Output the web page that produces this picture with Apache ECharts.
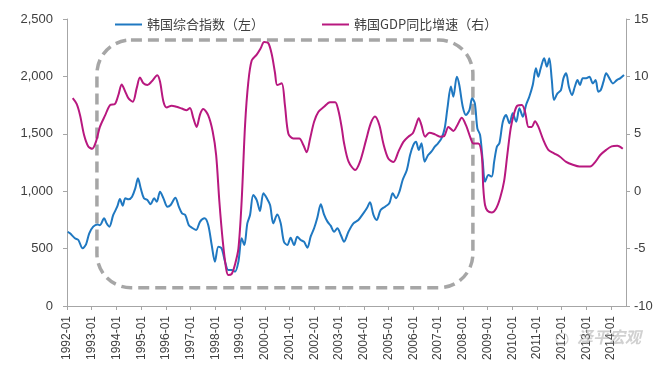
<!DOCTYPE html>
<html>
<head>
<meta charset="utf-8">
<script src="https://cdn.jsdelivr.net/npm/echarts@6/dist/echarts.min.js"></script>
<style>
html,body{margin:0;padding:0;background:#fff;}
#c{width:660px;height:372px;}
</style>
</head>
<body>
<div id="c"></div>
<script>
// ---- data (x = position in years) ----
const kospiName = '韩国综合指数（左）';
const gdpName = '韩国GDP同比增速（右）';

const kospiX = [1992.03,1992.12,1992.32,1992.46,1992.63,1992.77,1992.90,1993.06,1993.23,1993.33,1993.50,1993.60,1993.71,1993.87,
1994.03,1994.14,1994.25,1994.36,1994.49,1994.63,1994.76,1994.87,1994.98,1995.11,1995.25,1995.38,1995.52,1995.63,1995.76,1995.90,
1996.06,1996.19,1996.38,1996.52,1996.65,1996.78,1996.92,1997.05,1997.22,1997.38,1997.56,1997.71,1997.85,1997.98,1998.12,1998.25,
1998.39,1998.52,1998.66,1998.79,1998.93,1999.06,1999.17,1999.29,1999.40,1999.53,1999.67,1999.80,1999.94,2000.08,2000.21,2000.34,
2000.50,2000.64,2000.77,2000.91,2001.04,2001.18,2001.31,2001.45,2001.58,2001.72,2001.85,2001.99,2002.12,2002.26,2002.39,2002.53,
2002.66,2002.80,2002.93,2003.07,2003.20,2003.38,2003.58,2003.78,2003.98,2004.12,2004.25,2004.39,2004.52,2004.68,2004.86,2005.03,
2005.17,2005.30,2005.44,2005.57,2005.74,2005.87,2006.00,2006.11,2006.22,2006.33,2006.46,2006.60,2006.73,2006.87,2007.00,2007.14,
2007.27,2007.38,2007.52,2007.62,2007.76,2007.86,2008.00,2008.13,2008.27,2008.38,2008.49,2008.59,2008.70,2008.81,2008.90,2009.04,
2009.17,2009.27,2009.38,2009.48,2009.62,2009.75,2009.89,2010.02,2010.16,2010.29,2010.43,2010.56,2010.69,2010.83,2010.96,2011.05,
2011.15,2011.29,2011.40,2011.50,2011.60,2011.69,2011.83,2011.97,2012.07,2012.18,2012.29,2012.42,2012.53,2012.64,2012.74,2012.85,
2012.99,2013.12,2013.26,2013.37,2013.48,2013.58,2013.69,2013.80,2013.93,2014.07,2014.23,2014.36,2014.52];
const kospiValues = [647,633,590,575,502,537,633,691,711,704,764,720,691,793,
865,932,874,938,929,952,1025,1112,1025,938,923,886,938,909,996,938,
865,880,944,865,807,793,706,682,662,735,764,706,531,386,517,502,
386,314,314,299,386,590,531,720,793,967,923,828,982,938,880,720,
798,720,560,531,595,531,604,575,560,508,604,677,769,886,798,735,
700,647,677,619,560,647,720,749,807,851,903,793,749,836,865,894,
982,938,996,1098,1185,1315,1402,1431,1359,1417,1257,1315,1344,1388,1417,1460,
1548,1722,1911,1823,1997,1925,1736,1664,1707,1809,1765,1548,1490,1257,1083,1141,
1127,1257,1388,1417,1605,1664,1591,1678,1605,1722,1649,1751,1823,1925,2070,1997,
2070,2158,2085,2158,1969,1794,1852,1881,1983,2027,1910,1838,1910,1968,1925,1983,
1983,1997,1939,1968,1867,1881,1954,2027,1983,1939,1968,1983,2012];

const gdpX = [1992.23,1992.39,1992.53,1992.69,1992.86,1993.02,1993.17,1993.33,1993.54,1993.74,1993.94,1994.08,1994.21,1994.35,
1994.48,1994.66,1994.82,1994.95,1995.09,1995.25,1995.42,1995.65,1995.76,1995.90,1996.03,1996.23,1996.43,1996.64,1996.84,1996.97,
1997.11,1997.24,1997.38,1997.51,1997.71,1997.89,1998.03,1998.16,1998.30,1998.43,1998.52,1998.66,1998.79,1998.93,1999.06,1999.20,
1999.33,1999.47,1999.67,1999.83,1999.97,2000.14,2000.28,2000.41,2000.50,2000.68,2000.81,2000.95,2001.15,2001.39,2001.56,2001.69,
2001.83,2001.99,2002.16,2002.39,2002.63,2002.84,2002.97,2003.11,2003.20,2003.38,2003.65,2003.85,2004.09,2004.28,2004.45,2004.63,
2004.79,2004.99,2005.20,2005.40,2005.60,2005.80,2005.98,2006.11,2006.22,2006.33,2006.48,2006.65,2006.88,2007.08,2007.25,2007.42,
2007.62,2007.78,2007.96,2008.13,2008.32,2008.43,2008.63,2008.77,2008.83,2008.90,2009.00,2009.17,2009.35,2009.51,2009.67,2009.80,
2009.94,2010.08,2010.21,2010.39,2010.52,2010.66,2010.79,2010.92,2011.06,2011.26,2011.46,2011.69,2011.93,2012.18,2012.45,2012.72,
2012.95,2013.15,2013.36,2013.56,2013.80,2014.02,2014.25,2014.47];
const gdpValues = [8.1,7.6,6.6,4.9,3.9,3.7,4.3,5.6,6.6,7.5,7.6,8.4,9.3,8.7,
8.1,7.8,9.0,9.9,9.4,9.25,9.55,10.1,9.55,7.8,7.3,7.45,7.35,7.2,7.05,7.25,
6.35,5.6,6.7,7.15,6.6,5.2,3.15,-0.9,-4.4,-6.7,-7.3,-7.2,-6.4,-5.0,-0.9,5.8,
9.5,11.4,11.9,12.45,13.0,12.9,11.9,10.3,9.25,9.4,7.5,5.0,4.6,4.6,4.0,3.4,
4.6,6.05,6.9,7.35,7.75,7.75,7.05,5.5,4.2,2.6,1.85,2.6,4.45,5.9,6.5,5.75,
4.15,2.85,2.55,3.45,4.3,4.75,5.05,5.75,6.35,5.75,4.75,5.1,4.95,4.75,4.8,5.6,
5.25,5.75,6.4,5.75,4.6,4.15,4.15,3.1,0.3,-1.2,-1.7,-1.85,-1.5,-0.6,0.85,3.15,
5.5,6.8,7.45,7.5,6.9,5.6,5.6,6.1,5.6,4.45,3.6,3.3,3.0,2.55,2.3,2.15,
2.15,2.15,2.55,3.15,3.6,3.9,3.95,3.7];

const xRange = [1992, 2014.6];
const leftTicks = [0, 2500, 500];
const rightTicks = [-10, 15, 5];
// highlighted period (dashed frame), in data units of the left axis
const frameX = [1993.21, 2008.41];
const frameY = [2317, 159];

const zip = (xs, ys) => xs.map((x, i) => [x, ys[i]]);

const FONT = "'Liberation Sans','Noto Sans CJK SC',sans-serif";
const TXT = '#404040';
const AX = '#a6a6a6';

const chart = echarts.init(document.getElementById('c'), null, {renderer: 'canvas'});
chart.setOption({
  animation: false,
  backgroundColor: '#fff',
  textStyle: {fontFamily: FONT},
  grid: {left: 67, right: 34, top: 19, bottom: 66, containLabel: false},
  legend: [
    {data: [kospiName], left: 110, top: 13, icon: 'rect', itemWidth: 27, itemHeight: 2,
     textStyle: {fontSize: 13, color: TXT, fontFamily: "'Noto Sans CJK SC',sans-serif"}},
    {data: [gdpName], left: 317, top: 13, icon: 'rect', itemWidth: 27, itemHeight: 2,
     textStyle: {fontSize: 13, color: TXT, fontFamily: "'Noto Sans CJK SC',sans-serif"}}
  ],
  xAxis: {
    type: 'value', min: xRange[0], max: xRange[1], interval: 1,
    axisLine: {show: true, lineStyle: {color: AX, width: 1}},
    axisTick: {show: true, length: 4, lineStyle: {color: AX}},
    splitLine: {show: false},
    axisLabel: {
      rotate: 90, margin: 10, fontSize: 12, color: TXT, fontFamily: FONT,
      showMaxLabel: false,
      formatter: v => (Math.abs(v - Math.round(v)) < 1e-6 ? Math.round(v) + '-01' : '')
    }
  },
  yAxis: [
    {type: 'value', min: leftTicks[0], max: leftTicks[1], interval: leftTicks[2], position: 'left',
     axisLine: {show: true, lineStyle: {color: AX}},
     axisTick: {show: true, length: 4, lineStyle: {color: AX}},
     splitLine: {show: false},
     axisLabel: {fontSize: 13, color: TXT, margin: 14, fontFamily: FONT,
       formatter: v => v.toLocaleString('en-US')}},
    {type: 'value', min: rightTicks[0], max: rightTicks[1], interval: rightTicks[2], position: 'right',
     axisLine: {show: true, lineStyle: {color: AX}},
     axisTick: {show: true, length: 4, lineStyle: {color: AX}},
     splitLine: {show: false},
     axisLabel: {fontSize: 13, color: TXT, margin: 8, fontFamily: FONT}}
  ],
  series: [
    {name: kospiName, type: 'line', yAxisIndex: 0, data: zip(kospiX, kospiValues),
     symbol: 'none', smooth: 0.3, lineStyle: {color: '#1f78c1', width: 2}, itemStyle: {color: '#1f78c1'}, z: 3},
    {name: gdpName, type: 'line', yAxisIndex: 1, data: zip(gdpX, gdpValues),
     symbol: 'none', smooth: 0.3, lineStyle: {color: '#b8187f', width: 2}, itemStyle: {color: '#b8187f'}, z: 3}
  ]
});

const p1 = chart.convertToPixel({xAxisIndex: 0, yAxisIndex: 0}, [frameX[0], frameY[0]]);
const p2 = chart.convertToPixel({xAxisIndex: 0, yAxisIndex: 0}, [frameX[1], frameY[1]]);
chart.setOption({
  graphic: [
    {type: 'rect', z: 1,
     shape: {x: p1[0], y: p1[1], width: p2[0] - p1[0], height: p2[1] - p1[1], r: 34},
     style: {fill: 'none', stroke: '#a6a6a6', lineWidth: 3.5, lineDash: [11, 6]}},
    {type: 'text', left: 577, top: 329, z: 10,
     style: {text: '泽平宏观', fontSize: 16, fontWeight: 'bold', fontStyle: 'italic',
             fontFamily: "'Noto Sans CJK SC',sans-serif", fill: 'rgba(170,170,170,0.55)'}},
    {type: 'circle', z: 10, shape: {cx: 562, cy: 339, r: 6},
     style: {fill: 'none', stroke: 'rgba(170,170,170,0.5)', lineWidth: 1.2}}
  ]
});
</script>
</body>
</html>
